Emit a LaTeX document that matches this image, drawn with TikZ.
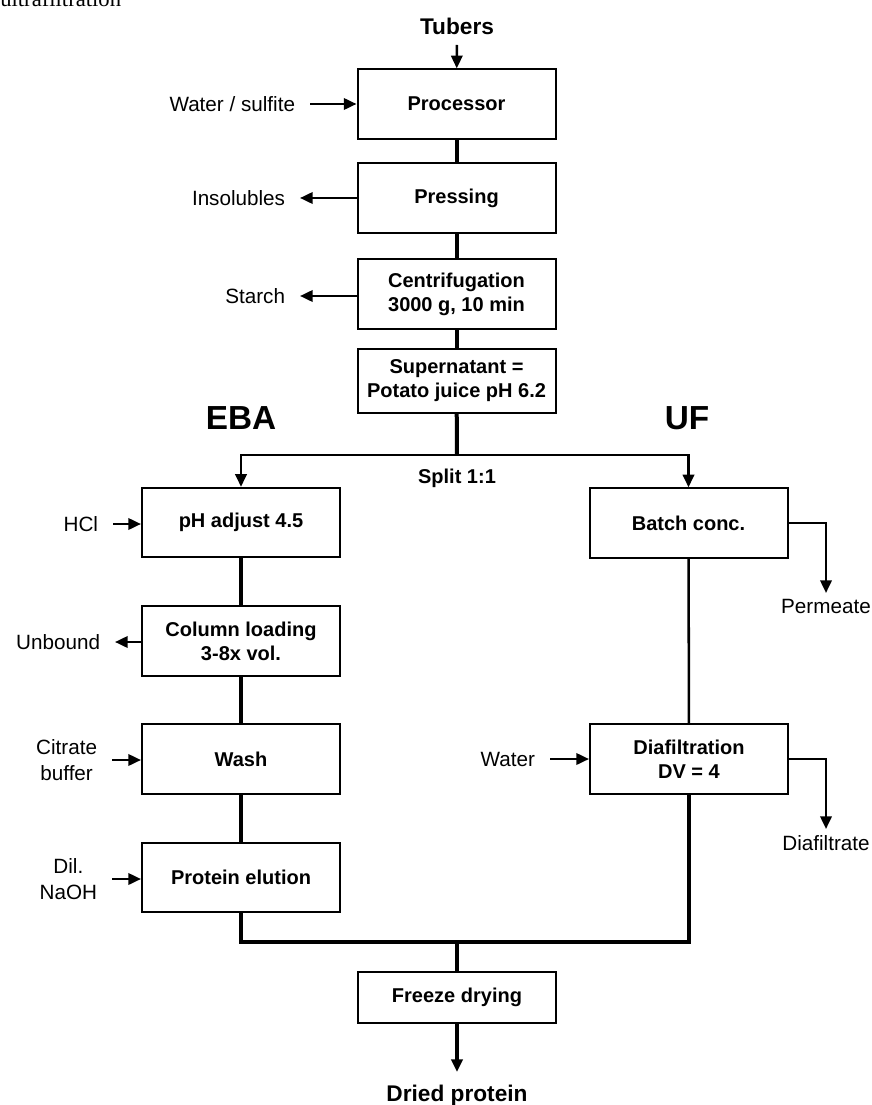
\documentclass[tikz,border=0pt]{standalone}
\usepackage{fontspec}
\setmainfont{Liberation Sans}
\newfontfamily\capfont{Liberation Serif}
\usetikzlibrary{arrows.meta}

\tikzset{
  stepbox/.style={draw, line width=1.5pt, minimum width=148.5pt, minimum height=52pt,
    align=center, inner sep=2pt, font=\bfseries\fontsize{15}{18}\selectfont},
  sidelabel/.style={align=center, inner xsep=11pt, font=\fontsize{15.5}{19}\selectfont},
  outlabel/.style={inner sep=4.5pt, font=\fontsize{15.5}{19}\selectfont},
  pipe/.style={line width=3pt},
  thinpipe/.style={line width=1.9pt},
  flow/.style={line width=1.9pt, -{Triangle[length=9.5pt,width=8.5pt]}},
  headline/.style={font=\bfseries\fontsize{17}{20}\selectfont},
}

\begin{document}
\begin{tikzpicture}[x=0.75pt, y=-0.75pt]
  \useasboundingbox (0,0) rectangle (871,1105);
  % cut caption at the top edge
  \node[anchor=base west, inner sep=0pt, font=\capfont\fontsize{17}{20}\selectfont] (cap) at (0,7) {ultrafiltration};

  % Main line
  \node[headline, anchor=south, inner ysep=7.5pt] (tub) at (457,45) {Tubers};
  \node[stepbox] (proc) at (456.5,104) {Processor};
  \node[stepbox] (press) at (456.5,198) {Pressing};
  \node[stepbox] (centr) at (456.5,294) {Centrifugation\\3000 g, 10 min};
  \node[stepbox, minimum height=48pt] (super) at (456.5,381) {Supernatant =\\Potato juice pH 6.2};

  \node[sidelabel, anchor=east] (wat) at (310,104) {Water / sulfite};
  \node[sidelabel, anchor=east] (ins) at (300,198) {Insolubles};
  \node[sidelabel, anchor=east] (sta) at (300,296) {Starch};

  \draw[flow] (tub) -- (proc);
  \draw[flow] (wat.east) -- (proc.west);
  \draw[flow] (press.west |- ins.east) -- (ins.east);
  \draw[flow] (centr.west |- sta.east) -- (sta.east);
  \draw[pipe] (proc) -- (press);
  \draw[pipe] (press) -- (centr);
  \draw[pipe] (centr) -- (super);

  % Split into the two routes
  \node[font=\bfseries\fontsize{25}{30}\selectfont] (eba) at (241,418) {EBA};
  \node[font=\bfseries\fontsize{25}{30}\selectfont] (uf) at (687,418) {UF};
  \node[font=\bfseries\fontsize{15}{18}\selectfont] (splt) at (457,478) {Split 1:1};
  \coordinate (split) at (457,455);
  \draw[pipe] (super) -- (split);

  % EBA route
  \node[stepbox] (ph) at (241,522.5) {pH adjust 4.5};
  \node[stepbox] (col) at (241,641) {Column loading\\3-8x vol.};
  \node[stepbox] (wash) at (241,759) {Wash};
  \node[stepbox] (elut) at (241,877.5) {Protein elution};

  \node[sidelabel, anchor=east] (hcl) at (113,524) {HCl};
  \node[sidelabel, anchor=east] (unb) at (115,642) {Unbound};
  \node[sidelabel, anchor=east] (cit) at (112,760) {Citrate\\buffer};
  \node[sidelabel, anchor=east] (dil) at (112,879) {Dil.\\NaOH};

  \draw[flow] (split) -| (ph);
  \draw[flow] (hcl.east) -- (ph.west |- hcl.east);
  \draw[flow] (col.west |- unb.east) -- (unb.east);
  \draw[flow] (cit.east) -- (wash.west |- cit.east);
  \draw[flow] (dil.east) -- (elut.west |- dil.east);
  \draw[pipe] (ph) -- (col);
  \draw[pipe] (col) -- (wash);
  \draw[pipe] (wash) -- (elut);

  % UF route
  \node[stepbox] (batch) at (688.5,523) {Batch conc.};
  \node[stepbox] (dia) at (689,759) {Diafiltration\\DV = 4};
  \node[sidelabel, anchor=east] (wtr) at (550,759) {Water};
  \node[outlabel, anchor=north] (perm) at (826,593) {Permeate};
  \node[outlabel, anchor=north] (diaf) at (826,829) {Diafiltrate};

  \draw[flow] (split) -| (batch);
  \draw[flow] (batch.east) -| (perm.north);
  \draw[thinpipe] (batch) -- (dia);
  \draw[flow] (wtr.east) -- (dia.west);
  \draw[flow] (dia.east) -| (diaf.north);

  % Merge and drying
  \node[stepbox, minimum height=38pt] (freeze) at (457,997.5) {Freeze drying};
  \node[headline, anchor=north, inner ysep=9.5pt] (dried) at (457,1072) {Dried protein};
  \coordinate (merge) at (457,942);
  \draw[pipe] (elut) |- (merge) -| (dia);
  \draw[pipe] (merge) -- (freeze);
  \draw[flow, line width=2.5pt] (freeze) -- (dried);
\end{tikzpicture}
\end{document}
